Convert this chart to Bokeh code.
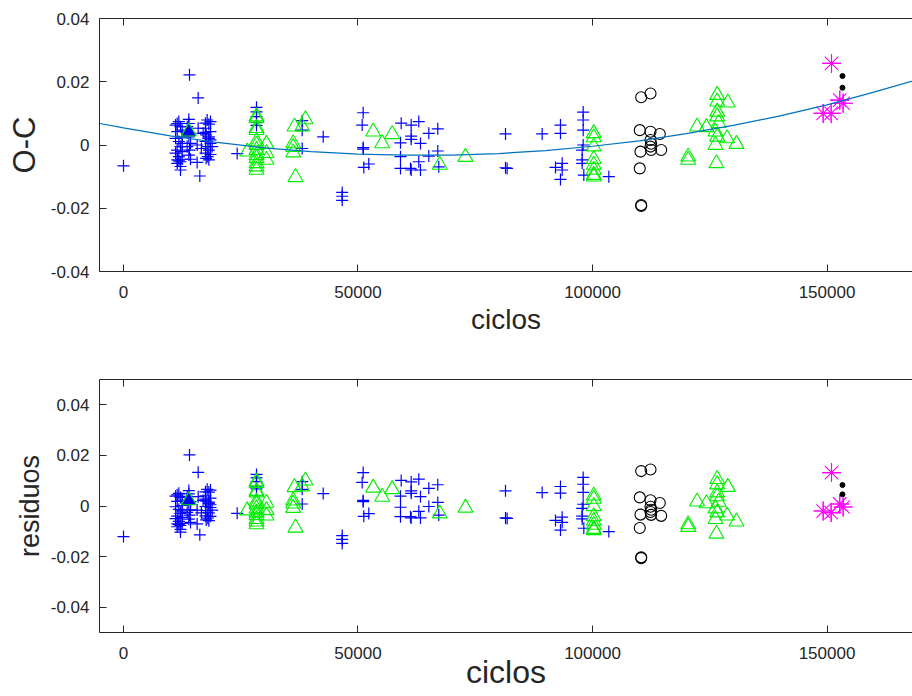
from bokeh.plotting import figure
from bokeh.layouts import column
from bokeh.models import Range1d, FixedTicker, LinearAxis
from bokeh.embed import file_html
from bokeh.resources import INLINE

# ---------------- data ----------------
x_ticks = [0, 50000, 100000, 150000]
x_tick_labels = ["0", "50000", "100000", "150000"]
y_ticks = [-0.04, -0.02, 0, 0.02, 0.04]
y_tick_labels = ["-0.04", "-0.02", "0", "0.02", "0.04"]

# blue '+' series
blue_x = [0, 11800, 13930, 12150, 11450, 12510, 11800, 12150, 11450, 11800,
          11450, 12150, 12510, 12150, 13930, 14290, 14070, 13930, 13580, 15700,
          16270, 15700, 15920, 17840, 18200, 17480, 18550, 17620, 18200, 17480,
          18550, 17840, 18200, 17480, 17970, 18200, 16600, 16980, 14070, 15920,
          11100, 11450, 12510, 11100, 12510, 11100, 12510, 11450, 12150, 11800,
          13930, 14290, 13580, 14290, 18550, 17480, 18550, 18900, 17620, 18200,
          18550, 17480,
          24240, 28360, 28360, 28360, 28360, 28360, 38100, 38100, 38100, 42580,
          46630, 46630, 46630, 51100, 50890, 51100, 51100, 51240, 52300, 59210,
          61340, 62960, 61340, 61340, 59060, 63320, 65100, 67010, 67010, 59060,
          59060, 61190, 63320, 62960, 65100, 67220, 61340, 81450, 81450, 81800,
          89270, 93170, 93170, 92110, 93530, 93530, 93170, 98010, 98010, 98010,
          98010, 97800, 97800, 97800, 98150, 103480]
blue_oc = [-0.0066, 0.0074, 0.0081, 0.0058, 0.0042, 0.0026, 0.0011, -0.0005, -0.0016, -0.0037,
           -0.0047, -0.0053, -0.0045, -0.0079, 0.0026, 0.0005, -0.0016, -0.0032, 0.0058, -0.0055,
           -0.0098, 0.0000, 0.0053, 0.0079, 0.0066, 0.0053, 0.0042, 0.0032, 0.0021, 0.0011,
           0.0005, -0.0005, -0.0016, -0.0026, -0.0037, 0.0026, -0.0011, 0.0037, 0.0222, 0.0149,
           0.0063, 0.0068, 0.0047, 0.0021, 0.0005, -0.0026, -0.0021, -0.0058, -0.0068, -0.0050,
           0.0068, 0.0037, -0.0005, -0.0045, 0.0074, 0.0069, 0.0016, -0.0005, -0.0042, -0.0047,
           -0.0030, 0.0040,
           -0.0027, 0.0119, 0.0105, 0.0090, 0.0072, 0.0062, 0.0077, 0.0047, -0.0011, 0.0026,
           -0.0150, -0.0162, -0.0175, 0.0102, 0.0063, -0.0008, -0.0013, -0.0071, -0.0060, 0.0069,
           0.0063, 0.0074, 0.0028, 0.0018, 0.0007, 0.0005, 0.0037, 0.0051, -0.0019, -0.0037,
           -0.0074, -0.0074, -0.0079, -0.0053, -0.0035, -0.0069, -0.0079, 0.0035, -0.0072, -0.0074,
           0.0035, 0.0063, 0.0037, -0.0071, -0.0058, -0.0079, -0.0109, 0.0104, 0.0079, 0.0047,
           0.0000, -0.0016, -0.0047, -0.0058, -0.0095, -0.0100]
blue_res = [-0.0121, 0.0050, 0.0061, 0.0034, 0.0018, 0.0002, -0.0013, -0.0029, -0.0040, -0.0061,
            -0.0071, -0.0077, -0.0069, -0.0103, 0.0006, -0.0015, -0.0036, -0.0052, 0.0038, -0.0071,
            -0.0114, -0.0016, 0.0037, 0.0066, 0.0055, 0.0040, 0.0031, 0.0019, 0.0010, -0.0002,
            -0.0006, -0.0018, -0.0027, -0.0039, -0.0048, 0.0015, -0.0027, 0.0022, 0.0202, 0.0133,
            0.0039, 0.0044, 0.0023, -0.0003, -0.0019, -0.0050, -0.0045, -0.0082, -0.0092, -0.0074,
            0.0048, 0.0017, -0.0025, -0.0065, 0.0063, 0.0056, 0.0005, -0.0016, -0.0055, -0.0058,
            -0.0041, 0.0027,
            -0.0029, 0.0125, 0.0111, 0.0096, 0.0078, 0.0068, 0.0096, 0.0066, 0.0008, 0.0049,
            -0.0117, -0.0132, -0.0148, 0.0132, 0.0093, 0.0022, 0.0017, -0.0041, -0.0030, 0.0101,
            0.0095, 0.0106, 0.0060, 0.0050, 0.0039, 0.0037, 0.0070, 0.0084, 0.0014, -0.0005,
            -0.0042, -0.0042, -0.0047, -0.0021, -0.0002, -0.0036, -0.0047, 0.0060, -0.0047, -0.0049,
            0.0053, 0.0077, 0.0051, -0.0057, -0.0044, -0.0065, -0.0095, 0.0113, 0.0086, 0.0054,
            0.0007, -0.0009, -0.0040, -0.0051, -0.0088, -0.0101]

# green open triangles
green_x = [28360, 28360, 28360, 28360, 28360, 28360, 28360, 28360, 28360, 28360,
           28360, 28360, 26370, 30490, 30490, 30490, 36460, 38800, 38100, 36180,
           36180, 36180, 36670, 53240, 55160, 57290, 67440, 72920, 100270, 100270,
           100270, 100270, 100270, 100270, 100270, 100270, 120400, 120400, 122300, 124300,
           126580, 126580, 128850, 126580, 126580, 126900, 126220, 126580, 126220, 128700,
           130700, 126430]
green_oc = [0.0090, 0.0084, 0.0053, 0.0047, 0.0011, 0.0000, -0.0016, -0.0032, -0.0042, -0.0058,
            -0.0068, -0.0079, -0.0021, 0.0003, -0.0026, -0.0047, 0.0058, 0.0081, 0.0058, 0.0005,
            -0.0007, -0.0024, -0.0102, 0.0042, 0.0005, 0.0034, -0.0063, -0.0038, 0.0037, 0.0024,
            -0.0005, -0.0045, -0.0063, -0.0079, -0.0095, -0.0100, -0.0037, -0.0047, 0.0058, 0.0056,
            0.0158, 0.0137, 0.0134, 0.0105, 0.0090, 0.0069, 0.0042, 0.0026, 0.0000, 0.0021,
            0.0003, -0.0058]
green_res = [0.0096, 0.0090, 0.0059, 0.0053, 0.0017, 0.0006, -0.0010, -0.0026, -0.0036, -0.0052,
             -0.0062, -0.0073, -0.0018, 0.0012, -0.0017, -0.0038, 0.0074, 0.0100, 0.0077, 0.0021,
             0.0009, -0.0008, -0.0086, 0.0072, 0.0036, 0.0066, -0.0030, -0.0007, 0.0041, 0.0028,
             -0.0001, -0.0041, -0.0059, -0.0075, -0.0091, -0.0096, -0.0073, -0.0083, 0.0017, 0.0010,
             0.0106, 0.0085, 0.0075, 0.0053, 0.0038, 0.0016, -0.0010, -0.0026, -0.0052, -0.0038,
             -0.0062, -0.0110]

# triangle hidden under the blue cluster (appears filled)
tri_fill_x = [13930]
tri_fill_oc = [0.0042]
tri_fill_res = [0.0022]

# black open circles
circ_x = [110380, 112370, 110080, 112370, 114350, 112370, 112500, 112370, 112500, 110230,
          114640, 110080, 110380, 110380]
circ_oc = [0.0151, 0.0163, 0.0047, 0.0042, 0.0035, 0.0016, 0.0004, -0.0005, -0.0016, -0.0021,
           -0.0016, -0.0074, -0.0190, -0.0193]
circ_res = [0.0138, 0.0144, 0.0034, 0.0023, 0.0012, -0.0003, -0.0015, -0.0024, -0.0035, -0.0034,
            -0.0039, -0.0087, -0.0203, -0.0206]

# magenta asterisks
ast_x = [150960, 149180, 150880, 152720, 153440]
ast_oc = [0.0258, 0.0100, 0.0100, 0.0142, 0.0132]
ast_res = [0.0132, -0.0020, -0.0026, 0.0008, -0.0004]

# black small dots
dot_x = [153300, 153300]
dot_oc = [0.0218, 0.0181]
dot_res = [0.0083, 0.0046]

# fitted curve, read at regular cycle values
fit_x = [-5000, 0, 10000, 20000, 30000, 40000, 50000, 60000, 70000, 80000,
         90000, 100000, 110000, 120000, 130000, 140000, 150000, 160000, 170000]
fit_oc = [0.0068, 0.0054, 0.0029, 0.0008, -0.0009, -0.0021, -0.0029, -0.0032, -0.0032, -0.0027,
          -0.0018, -0.0004, 0.0013, 0.0036, 0.0062, 0.0092, 0.0127, 0.0167, 0.0210]

# ---------------- styling ----------------
FONT = "Liberation Sans"
TXT = "#262626"
X_RANGE = (-5117, 168230)


def style_axes(p, ylabel, ylabel_size, xlabel, xlabel_size, xlabel_standoff, ylabel_standoff):
    p.outline_line_color = None
    p.xgrid.visible = False
    p.ygrid.visible = False
    p.background_fill_color = "white"
    p.border_fill_color = "white"

    xa = p.xaxis[0]
    xa.ticker = FixedTicker(ticks=x_ticks)
    xa.major_label_overrides = {t: l for t, l in zip(x_ticks, x_tick_labels)}
    ya = p.yaxis[0]
    ya.ticker = FixedTicker(ticks=y_ticks)
    ya.major_label_overrides = {t: l for t, l in zip(y_ticks, y_tick_labels)}

    for ax in (xa, ya):
        ax.axis_line_color = TXT
        ax.axis_line_width = 1
        ax.major_tick_line_color = TXT
        ax.major_tick_in = 7
        ax.major_tick_out = 0
        ax.minor_tick_line_color = None
        ax.major_label_text_font = FONT
        ax.major_label_text_font_size = "17px"
        ax.major_label_text_color = TXT
        ax.axis_label_text_font = FONT
        ax.axis_label_text_font_style = "normal"
        ax.axis_label_text_color = TXT
    xa.major_label_standoff = 14
    ya.major_label_standoff = 10
    xa.axis_label = xlabel
    xa.axis_label_text_font_size = xlabel_size
    xa.axis_label_standoff = xlabel_standoff
    ya.axis_label = ylabel
    ya.axis_label_text_font_size = ylabel_size
    ya.axis_label_standoff = ylabel_standoff

    # frame top edge with inward ticks, no labels
    top = LinearAxis(ticker=FixedTicker(ticks=x_ticks))
    top.major_label_overrides = {t: "" for t in x_ticks}
    top.axis_line_color = TXT
    top.major_tick_line_color = TXT
    top.major_tick_in = 7
    top.major_tick_out = 0
    top.minor_tick_line_color = None
    top.major_label_standoff = 0
    p.add_layout(top, "above")


def draw(p, blue_y, green_y, tri_y, circ_y, ast_y, dot_y):
    p.scatter(blue_x, blue_y, marker="cross", size=12, line_color="#0000ff", line_width=1.2)
    p.scatter(green_x, green_y, marker="triangle", size=15, line_color="#00ee00",
              fill_color=None, line_width=1.1)
    p.scatter(tri_fill_x, tri_y, marker="triangle", size=15, line_color="#00ee00",
              fill_color="#0000ff", line_width=1.1)
    p.scatter(circ_x, circ_y, marker="circle", size=11, line_color="black",
              fill_color=None, line_width=1.1)
    p.scatter(ast_x, ast_y, marker="asterisk", size=19, line_color="#ff00ff", line_width=1.1)
    p.scatter(ast_x, ast_y, marker="cross", size=19, line_color="#ff00ff", line_width=1.1)
    p.scatter(dot_x, dot_y, marker="circle", size=5, line_color="black", fill_color="black")


# top panel : O-C  (frame 99..912 x 18..271)
p1 = figure(width=912, height=345, output_backend="svg", toolbar_location=None,
            x_range=Range1d(*X_RANGE), y_range=Range1d(-0.04, 0.04),
            min_border_left=99, min_border_right=0, min_border_top=18, min_border_bottom=74)
style_axes(p1, "O-C", "31px", "ciclos", "28px", 3, 6)
draw(p1, blue_oc, green_oc, tri_fill_oc, circ_oc, ast_oc, dot_oc)
p1.line(fit_x, fit_oc, line_color="#0072bd", line_width=1.2)

# bottom panel : residuos  (frame 99..912 x 379..632)
p2 = figure(width=912, height=351, output_backend="svg", toolbar_location=None,
            x_range=Range1d(*X_RANGE), y_range=Range1d(-0.05, 0.05),
            min_border_left=99, min_border_right=0, min_border_top=34, min_border_bottom=64)
style_axes(p2, "residuos", "27px", "ciclos", "32px", -8, 3)
draw(p2, blue_res, green_res, tri_fill_res, circ_res, ast_res, dot_res)

layout = column(p1, p2, spacing=0)
open("out.html", "w").write(file_html(layout, INLINE))
